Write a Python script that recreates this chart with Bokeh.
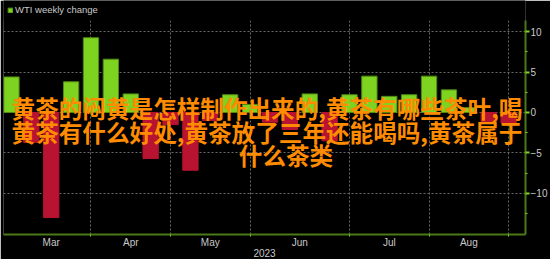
from bokeh.plotting import figure
from bokeh.models import FixedTicker, Legend, LegendItem, Label, ColumnDataSource, BoxAnnotation
from bokeh.embed import file_html
from bokeh.resources import INLINE

# ---- data ----
week_index = list(range(26))
weekly_change = [4.4, -3.7, -13.0, 3.8, 9.25, 6.6, 2.3, -5.7, -1.5, -7.15,
                 -1.0, 2.2, 1.0, -1.2, -2.1, 2.3, -3.5, 2.2, 4.5, 2.0,
                 2.2, 4.5, 2.8, 0.6, -1.1, -1.3]
month_labels = ["Mar", "Apr", "May", "Jun", "Jul", "Aug"]
month_bounds = [0, 4, 8, 12, 17, 21, 25]
y_ticks = [-10, -5, 0, 5, 10]
y_minor = [-12.5, -7.5, -2.5, 2.5, 7.5]
y_axis_span = (-15.1, 11.4)
year_label = "2023"
legend_label = "WTI weekly change"
title_lines = ["黄茶的闷黄是怎样制作出来的,黄茶有哪些茶叶,喝",
               "黄茶有什么好处,黄茶放了三年还能喝吗,黄茶属于",
               "什么茶类"]

GREEN = "#7ed321"
RED = "#b81330"
AXIS = "#4a7a18"
TXT = "#c8c8c8"
FONT = "'Liberation Sans', Arial, sans-serif"

pos = ColumnDataSource(dict(
    x=[w for w, v in zip(week_index, weekly_change) if v >= 0],
    top=[v for v in weekly_change if v >= 0]))
neg = ColumnDataSource(dict(
    x=[w for w, v in zip(week_index, weekly_change) if v < 0],
    top=[v for v in weekly_change if v < 0]))

# frame runs to the top edge; the space above the axis span holds the legend
p = figure(width=550, height=259, output_backend="svg", toolbar_location=None,
           x_range=(-0.4, 25.85), y_range=(-15.1, 13.86), y_axis_location="right",
           min_border_left=3, min_border_right=22, min_border_top=0, min_border_bottom=23)
p.background_fill_color = "black"
p.border_fill_color = "black"
p.outline_line_color = None

g = p.vbar(x="x", top="top", bottom=0, width=0.77, source=pos,
           fill_color=GREEN, line_color="#4f8a14", line_width=1)
r = p.vbar(x="x", top="top", bottom=0, width=0.77, source=neg,
           fill_color=RED, line_color=RED, line_width=1)

# y axis (right)
ya = p.yaxis[0]
ya.bounds = y_axis_span
ya.ticker = FixedTicker(ticks=y_ticks, minor_ticks=y_minor)
ya.axis_line_color = AXIS
ya.axis_line_width = 2
ya.major_tick_line_color = GREEN
ya.major_tick_line_width = 2
ya.major_tick_out = 4
ya.major_tick_in = 0
ya.minor_tick_line_color = GREEN
ya.minor_tick_out = 2
ya.minor_tick_in = 0
ya.major_label_standoff = 1
ya.major_label_text_color = TXT
ya.major_label_text_font = FONT
ya.major_label_text_font_size = "10px"

# x axis
mids = [(a + b) / 2 for a, b in zip(month_bounds[:-1], month_bounds[1:])]
mids = [int(m) if m == int(m) else m for m in mids]
xa = p.xaxis[0]
xa.ticker = FixedTicker(ticks=mids, minor_ticks=month_bounds[1:])
xa.major_label_overrides = {m: lab for m, lab in zip(mids, month_labels)}
xa.axis_line_color = AXIS
xa.axis_line_width = 2
xa.major_tick_line_color = None
xa.major_tick_out = 0
xa.major_tick_in = 0
xa.minor_tick_line_color = GREEN
xa.minor_tick_out = 2
xa.minor_tick_in = 0
xa.major_label_standoff = 0
xa.major_label_text_color = TXT
xa.major_label_text_font = FONT
xa.major_label_text_font_size = "10px"
xa.axis_label = year_label
xa.axis_label_standoff = -2
xa.axis_label_text_color = TXT
xa.axis_label_text_font = FONT
xa.axis_label_text_font_size = "10px"
xa.axis_label_text_font_style = "normal"

# grids
p.xgrid.ticker = FixedTicker(ticks=month_bounds[1:])
p.ygrid.ticker = FixedTicker(ticks=y_ticks)
for gr in (p.xgrid, p.ygrid):
    gr.grid_line_color = "#6a6a6a"
    gr.grid_line_dash = "2 2"
    gr.grid_line_width = 1

# keep the legend strip above the axis span clear of grid lines
p.add_layout(BoxAnnotation(bottom=y_axis_span[1], fill_color="black", fill_alpha=1,
                           line_color=None, level="glyph"))

leg = Legend(items=[LegendItem(label=legend_label, renderers=[g])],
             location="top_left", orientation="horizontal",
             glyph_width=6, glyph_height=6, label_height=10, label_standoff=2,
             padding=0, margin=4, spacing=0,
             border_line_color=None, background_fill_alpha=0,
             label_text_color=TXT, label_text_font_size="9.5px",
             label_text_font=FONT)
p.add_layout(leg)

# overlay title text
title_pos = [(12.85, 0.58), (12.85, -2.43), (13.8, -5.25)]
for txt, (tx, ty) in zip(title_lines, title_pos):
    p.add_layout(Label(x=tx, y=ty, text=txt, text_align="center", text_baseline="middle",
                       text_color="#ff8c00", text_font="Noto Sans CJK SC",
                       text_font_size="23.6px", text_font_style="bold"))

open("out.html", "w").write(file_html(p, INLINE))
